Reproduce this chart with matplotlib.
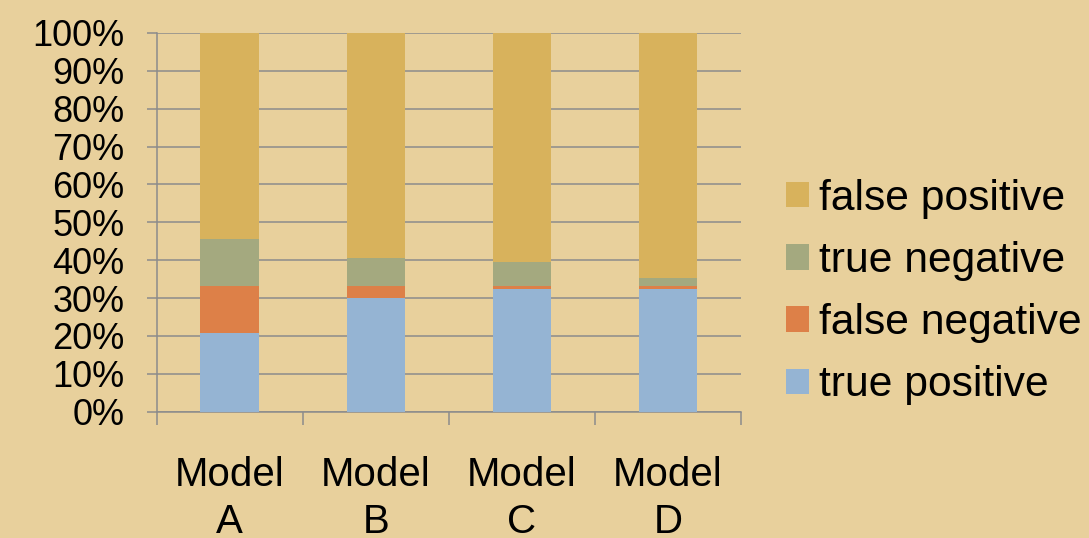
import numpy as np
import matplotlib.pyplot as plt
from matplotlib.patches import Patch

plt.rcParams['font.family'] = ['Liberation Sans', 'DejaVu Sans']

# share of each outcome per model (percent of predictions)
models = ['Model\nA', 'Model\nB', 'Model\nC', 'Model\nD']
true_pos = [20.8, 30.1, 32.3, 32.3]
false_neg = [12.4, 3.1, 0.9, 0.9]
true_neg = [12.4, 7.4, 6.4, 2.2]
false_pos = [54.4, 59.4, 60.4, 64.6]

bg = '#e8d09c'
grid_col = '#8c8c8c'
series = [
    ('true positive', true_pos, '#95b4d3'),
    ('false negative', false_neg, '#dd8048'),
    ('true negative', true_neg, '#a4a97f'),
    ('false positive', false_pos, '#d8b25c'),
]

fig = plt.figure(figsize=(10.89, 5.38), dpi=100, facecolor=bg)
ax = fig.add_axes([0.1438, 0.2348, 0.5366, 0.7039], facecolor=bg)

x = np.arange(len(models)) + 0.5
bottom = np.zeros(len(models))
for name, vals, col in series:
    vals = np.array(vals)
    ax.bar(x, vals, width=0.4, bottom=bottom, color=col, zorder=3)
    bottom += vals

ax.set_xlim(0, len(models))
ax.set_ylim(0, 100)
ax.set_yticks(np.arange(0, 101, 10))
ax.set_yticklabels([f'{v}%' for v in range(0, 101, 10)], fontsize=26)
ax.yaxis.grid(True, color=grid_col, linewidth=1.1, zorder=0)

# category boundaries as major ticks, labels centred on minor ticks
ax.set_xticks(np.arange(0, len(models) + 1))
ax.set_xticklabels([])
ax.set_xticks(x, minor=True)
ax.set_xticklabels(models, minor=True, fontsize=29, linespacing=1.3)
ax.tick_params(axis='x', which='major', length=9, width=1.1, color=grid_col, direction='out')
ax.tick_params(axis='x', which='minor', length=0, pad=32)
ax.tick_params(axis='y', length=7, width=1.1, color=grid_col, pad=16)

for side in ['top', 'right']:
    ax.spines[side].set_visible(False)
for side in ['left', 'bottom']:
    ax.spines[side].set_color(grid_col)
    ax.spines[side].set_linewidth(1.1)

handles = [Patch(facecolor=c, label=n) for n, _, c in series][::-1]
fig.legend(handles=handles, loc='center left', bbox_to_anchor=(0.706, 0.457),
           frameon=False, fontsize=30.7, handlelength=0.54, handleheight=0.54,
           handletextpad=0.24, labelspacing=0.52, borderaxespad=0)

fig.savefig('out.png', dpi=100, facecolor=bg)
